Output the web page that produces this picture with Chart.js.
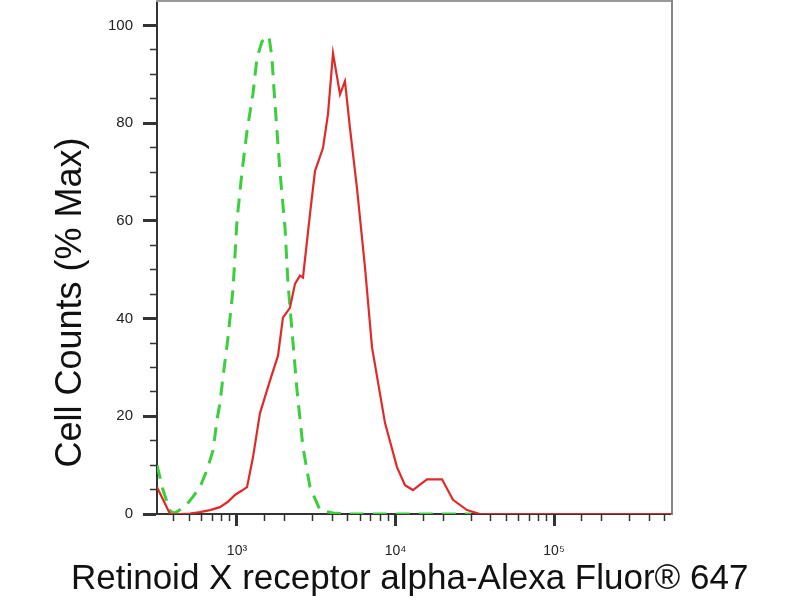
<!DOCTYPE html>
<html>
<head>
<meta charset="utf-8">
<script src="https://cdn.jsdelivr.net/npm/chart.js@4/dist/chart.umd.min.js"></script>
<style>
  html, body { margin: 0; padding: 0; background: #fff; }
  #wrap { width: 800px; height: 600px; }
</style>
</head>
<body>
<div id="wrap"><canvas id="histChart" width="800" height="600"></canvas></div>
<script>
// stained sample (red, solid)
const redX = [313, 341, 378, 437, 505, 584, 676, 781, 877, 971, 1075, 1157, 1262, 1396, 1615, 1815, 1950, 2158, 2323, 2496, 2608, 2888, 3105, 3488, 3750, 4035, 4467, 4800, 5163, 5715, 6425, 7112, 8590, 10220, 11480, 12890, 14280, 15810, 19650, 23050, 28270, 34120, 100000, 555000];
const redY = [5.5, 3, 0, 0, 0.1, 0.4, 0.8, 1.4, 2.5, 3.9, 4.8, 5.5, 11.6, 20.6, 27.3, 32.4, 40.2, 42.2, 47.1, 48.8, 48.4, 61.4, 70.2, 74.9, 81.8, 94.3, 85.9, 88.6, 79.0, 66.7, 50.4, 34.1, 18.6, 9.6, 5.9, 4.9, 6.0, 7.1, 7.1, 2.9, 0.8, 0, 0, 0];

// isotype control (green, dashed)
const greenX = [313, 341, 378, 406, 470, 527, 584, 647, 706, 748, 781, 816, 877, 944, 1000, 1075, 1157, 1262, 1337, 1437, 1592, 1663, 1711, 1788, 1868, 2009, 2099, 2224, 2392, 2608, 2888, 3339, 4035, 5163, 10670, 30000];
const greenY = [10, 5, 0.6, 0.2, 1.5, 3.5, 5.5, 9, 13, 19.2, 22.7, 28, 36, 46, 60, 70, 78.4, 86, 93.3, 96.7, 97.8, 93.3, 87, 78.4, 70, 58.6, 47.1, 37.5, 25.3, 13.7, 5.5, 0.8, 0.2, 0, 0, 0];

const xLabels = { 1000: '10³', 10000: '10⁴', 100000: '10⁵' };
const yLabelValues = [0, 20, 40, 60, 80, 100];

const xTitle = 'Retinoid X receptor alpha-Alexa Fluor® 647';
const yTitle = 'Cell Counts (% Max)';

const FONT = "Arial, 'Liberation Sans', sans-serif";

function toPoints(xs, ys) {
    return xs.map((x, i) => ({ x: x, y: ys[i] }));
}

function isDecade(v) {
    return xLabels[v] !== undefined;
}

new Chart(document.getElementById('histChart'), {
    type: 'line',
    data: {
        datasets: [
            {
                label: 'RXRα',
                data: toPoints(redX, redY),
                borderColor: '#e02a2a',
                borderWidth: 2.2,
                pointRadius: 0,
                tension: 0
            },
            {
                label: 'Isotype',
                data: toPoints(greenX, greenY),
                borderColor: '#3ccf3c',
                borderWidth: 3,
                borderDash: [14, 9],
                pointRadius: 0,
                tension: 0
            }
        ]
    },
    options: {
        responsive: false,
        animation: false,
        layout: { padding: { top: 1, right: 0, left: 0, bottom: 0 } },
        plugins: {
            legend: { display: false },
            tooltip: { enabled: false },
            // x axis title as a full-width title so it is not squeezed to the plot width
            title: {
                display: true,
                position: 'bottom',
                text: '\u00a0\u00a0' + xTitle,
                color: '#111',
                font: { family: FONT, size: 35, weight: 'normal' },
                padding: { top: 0, bottom: 0 }
            }
        },
        scales: {
            x: {
                type: 'logarithmic',
                position: 'bottom',
                min: 313,
                max: 555000,
                afterFit: (scale) => {
                    scale.height = 44;
                    scale.paddingLeft = 0;
                    scale.paddingRight = 0;
                },
                border: { color: '#333', width: 2 },
                grid: {
                    drawOnChartArea: false,
                    tickLength: 12,
                    tickColor: (ctx) => (ctx.tick && (ctx.tick.value === 313 || ctx.tick.value === 555000)) ? 'rgba(0,0,0,0)' : '#333',
                    tickWidth: (ctx) => (ctx.tick && isDecade(ctx.tick.value)) ? 3 : 1.5,
                    tickBorderDash: (ctx) => (ctx.tick && isDecade(ctx.tick.value)) ? [] : [6, 100]
                },
                ticks: {
                    autoSkip: false,
                    maxRotation: 0,
                    padding: 17,
                    color: '#222',
                    font: { family: FONT, size: 14 },
                    callback: (v) => xLabels[v] || ''
                }
            },
            y: {
                position: 'left',
                min: 0,
                max: 105,
                afterFit: (scale) => {
                    scale.width = 157;
                    scale.paddingTop = 0;
                    scale.paddingBottom = 0;
                },
                border: { color: '#333', width: 2 },
                grid: {
                    drawOnChartArea: false,
                    tickLength: 14,
                    tickColor: (ctx) => (ctx.tick && ctx.tick.value === 105) ? 'rgba(0,0,0,0)' : '#333',
                    tickWidth: (ctx) => (ctx.tick && yLabelValues.includes(ctx.tick.value)) ? 3 : 1.5,
                    tickBorderDash: (ctx) => (ctx.tick && yLabelValues.includes(ctx.tick.value)) ? [] : [0, 7, 7, 100]
                },
                ticks: {
                    stepSize: 5,
                    autoSkip: false,
                    padding: 10,
                    color: '#222',
                    font: { family: FONT, size: 15 },
                    callback: (v) => yLabelValues.includes(v) ? String(v) : ''
                },
                title: {
                    display: true,
                    text: yTitle + '\u00a0'.repeat(9),
                    color: '#111',
                    font: { family: FONT, size: 36 },
                    padding: { top: 49, bottom: 0 }
                }
            },
            // frame on top and right
            xTop: {
                type: 'linear',
                position: 'top',
                afterFit: (scale) => { scale.height = 0; },
                border: { color: '#999', width: 2 },
                grid: { drawOnChartArea: false, drawTicks: false },
                ticks: { display: false }
            },
            yRight: {
                type: 'linear',
                position: 'right',
                afterFit: (scale) => { scale.width = 128; },
                border: { color: '#888', width: 2 },
                grid: { drawOnChartArea: false, drawTicks: false },
                ticks: { display: false }
            }
        }
    }
});
</script>
</body>
</html>
